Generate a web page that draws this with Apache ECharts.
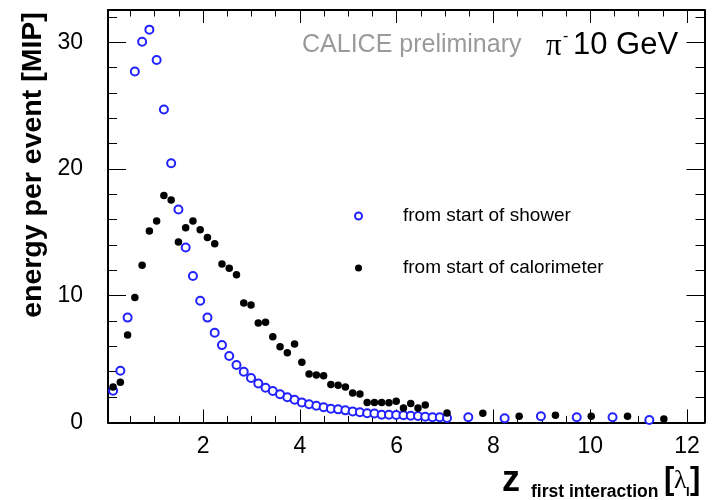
<!DOCTYPE html>
<html>
<head>
<meta charset="utf-8">
<script src="https://cdn.jsdelivr.net/npm/echarts@6/dist/echarts.min.js"></script>
<style>
  html, body { margin: 0; padding: 0; background: #fff; }
  #chart { width: 712px; height: 500px; }
</style>
</head>
<body>
<div id="chart"></div>
<script>
// Longitudinal shower profile, pi- at 10 GeV.
// Layer depth in interaction lengths (lambda_I) and mean energy per event in MIP.

// Energy measured relative to the start of the shower (open blue circles)
const showerX = [0.14, 0.29, 0.44, 0.59, 0.74, 0.89, 1.04, 1.19, 1.34, 1.49,
  1.64, 1.79, 1.94, 2.09, 2.24, 2.39, 2.54, 2.69, 2.84, 2.99,
  3.14, 3.29, 3.44, 3.59, 3.74, 3.89, 4.04, 4.19, 4.34, 4.49,
  4.64, 4.79, 4.94, 5.09, 5.24, 5.39, 5.54, 5.69, 5.84, 5.99,
  6.14, 6.29, 6.44, 6.59, 6.74, 6.89, 7.04,
  7.48, 8.23, 8.98, 9.72, 10.46, 11.22];
const showerY = [2.5, 4.08, 8.27, 27.7, 30.05, 31.0, 28.6, 24.7, 20.45, 16.8,
  13.8, 11.55, 9.6, 8.27, 7.08, 6.1, 5.24, 4.53, 4.0, 3.5,
  3.08, 2.74, 2.48, 2.22, 1.98, 1.79, 1.58, 1.43, 1.32, 1.19,
  1.08, 1.03, 0.95, 0.87, 0.8, 0.72, 0.7, 0.61, 0.61, 0.58,
  0.56, 0.53, 0.5, 0.45, 0.4, 0.4, 0.35,
  0.4, 0.32, 0.48, 0.4, 0.4, 0.19];

// Energy measured relative to the front face of the calorimeter (filled black dots)
const caloX = [0.14, 0.29, 0.44, 0.59, 0.74, 0.89, 1.04, 1.19, 1.34, 1.49,
  1.64, 1.79, 1.94, 2.09, 2.24, 2.39, 2.54, 2.69, 2.84, 2.99,
  3.14, 3.29, 3.44, 3.59, 3.74, 3.89, 4.04, 4.19, 4.34, 4.49,
  4.64, 4.79, 4.94, 5.09, 5.24, 5.39, 5.54, 5.69, 5.84, 5.99,
  6.14, 6.29, 6.44, 6.59, 7.04,
  7.78, 8.53, 9.28, 10.02, 10.77, 11.52];
const caloY = [2.8, 3.16, 6.9, 9.85, 12.4, 15.1, 15.9, 17.9, 17.55, 14.24,
  15.37, 15.9, 15.2, 14.6, 14.1, 12.5, 12.16, 11.66, 9.42, 9.27,
  7.85, 7.9, 6.77, 5.98, 5.5, 6.19, 4.74, 3.82, 3.74, 3.69,
  3.0, 2.93, 2.79, 2.32, 2.24, 1.58, 1.58, 1.58, 1.55, 1.66,
  1.13, 1.5, 1.13, 1.37, 0.75,
  0.72, 0.48, 0.56, 0.48, 0.48, 0.27];

const seriesNames = ['from start of shower', 'from start of calorimeter'];

// Tick positions
const xMajorTicks = [2, 4, 6, 8, 10, 12];
const xMinorTicks = [0.5, 1, 1.5, 2.5, 3, 3.5, 4.5, 5, 5.5, 6.5, 7, 7.5,
  8.5, 9, 9.5, 10.5, 11, 11.5];
const yMajorTicks = [0, 10, 20, 30];
const yMinorTicks = [2, 4, 6, 8, 12, 14, 16, 18, 22, 24, 26, 28, 32];

const X_RANGE = [0.035, 12.36];
const Y_RANGE = [0, 32.55];

const SANS = '"Liberation Sans", Arial, Helvetica, sans-serif';
const SERIF = '"Liberation Serif", "Times New Roman", serif';
const BLUE = '#2222ff';

const zip = (xs, ys) => xs.map((x, i) => [x, ys[i]]);

// One axis layer: ROOT-style frame with inward ticks on all four sides.
function axis(kind, position, ticks, tickLen, withLine, labels) {
  const range = kind === 'x' ? X_RANGE : Y_RANGE;
  return {
    type: 'value',
    position: position,
    min: range[0],
    max: range[1],
    axisLine: { show: withLine, onZero: false, lineStyle: { color: '#000', width: 2 } },
    axisTick: {
      show: true, inside: true, length: tickLen, customValues: ticks,
      lineStyle: { color: '#000', width: 1 }
    },
    axisLabel: labels ? {
      show: true, customValues: labels, color: '#000',
      fontFamily: SANS, fontSize: 23,
      margin: kind === 'x' ? 13 : 25
    } : { show: false },
    splitLine: { show: false },
    minorTick: { show: false }
  };
}

const chart = echarts.init(document.getElementById('chart'), null, { renderer: 'canvas' });

chart.setOption({
  animation: false,
  backgroundColor: '#fff',
  grid: { left: 108, top: 10, width: 596.5, height: 412.4 },
  xAxis: [
    axis('x', 'bottom', xMajorTicks, 13, true, xMajorTicks),
    axis('x', 'bottom', xMinorTicks, 6.5, false, null),
    axis('x', 'top', xMajorTicks, 13, true, null),
    axis('x', 'top', xMinorTicks, 6.5, false, null)
  ],
  yAxis: [
    axis('y', 'left', yMajorTicks, 18, true, yMajorTicks),
    axis('y', 'left', yMinorTicks, 9, false, null),
    axis('y', 'right', yMajorTicks, 18, true, null),
    axis('y', 'right', yMinorTicks, 9, false, null)
  ],
  legend: {
    orient: 'vertical',
    left: 349,
    top: 201,
    itemWidth: 7,
    itemHeight: 7,
    itemGap: 32,
    selectedMode: false,
    textStyle: {
      fontFamily: SANS, fontSize: 19, color: '#000',
      lineHeight: 20, padding: [0, 0, 0, 36]
    },
    data: [
      { name: seriesNames[0], icon: 'emptyCircle' },
      { name: seriesNames[1], icon: 'circle' }
    ]
  },
  series: [
    {
      name: seriesNames[0],
      type: 'scatter',
      xAxisIndex: 0, yAxisIndex: 0,
      symbol: 'emptyCircle',
      symbolSize: 8,
      itemStyle: { color: BLUE, borderWidth: 1.3, opacity: 1 },
      data: zip(showerX, showerY),
      z: 2
    },
    {
      name: seriesNames[1],
      type: 'scatter',
      xAxisIndex: 0, yAxisIndex: 0,
      symbol: 'circle',
      symbolSize: 7.5,
      itemStyle: { color: '#000', opacity: 1 },
      data: zip(caloX, caloY),
      z: 3
    }
  ],
  graphic: [
    { type: 'text', left: 302, top: 33,
      style: { text: 'CALICE preliminary', font: '25px ' + SANS, fill: '#9a9a9a' } },
    { type: 'text', left: 546, top: 31,
      style: { text: 'π', font: '31px ' + SERIF, fill: '#000' } },
    { type: 'text', left: 563, top: 29,
      style: { text: '-', font: '16px ' + SANS, fill: '#000' } },
    { type: 'text', left: 573, top: 30,
      style: { text: '10 GeV', font: '31px ' + SANS, fill: '#000' } },
    // y-axis title
    { type: 'text', x: 33, y: 165, rotation: Math.PI / 2,
      style: { text: 'energy per event [MIP]', font: 'bold 28.5px ' + SANS, fill: '#000',
        align: 'center', verticalAlign: 'middle' } },
    // x-axis title: z_{first interaction} [lambda_I]
    { type: 'text', x: 502, y: 481,
      style: { text: 'z', font: 'bold 36px ' + SANS, fill: '#000', verticalAlign: 'middle' } },
    { type: 'text', x: 531, y: 492,
      style: { text: 'first interaction', font: 'bold 17.5px ' + SANS, fill: '#000', verticalAlign: 'middle' } },
    { type: 'text', x: 664, y: 480,
      style: { text: '[', font: 'bold 31px ' + SANS, fill: '#000', verticalAlign: 'middle' } },
    { type: 'text', x: 674, y: 481,
      style: { text: 'λ', font: '26px ' + SERIF, fill: '#000', verticalAlign: 'middle' } },
    { type: 'text', x: 686, y: 492,
      style: { text: 'I', font: 'bold 13px ' + SANS, fill: '#000', verticalAlign: 'middle' } },
    { type: 'text', x: 690, y: 480,
      style: { text: ']', font: 'bold 31px ' + SANS, fill: '#000', verticalAlign: 'middle' } }
  ]
});
</script>
</body>
</html>
